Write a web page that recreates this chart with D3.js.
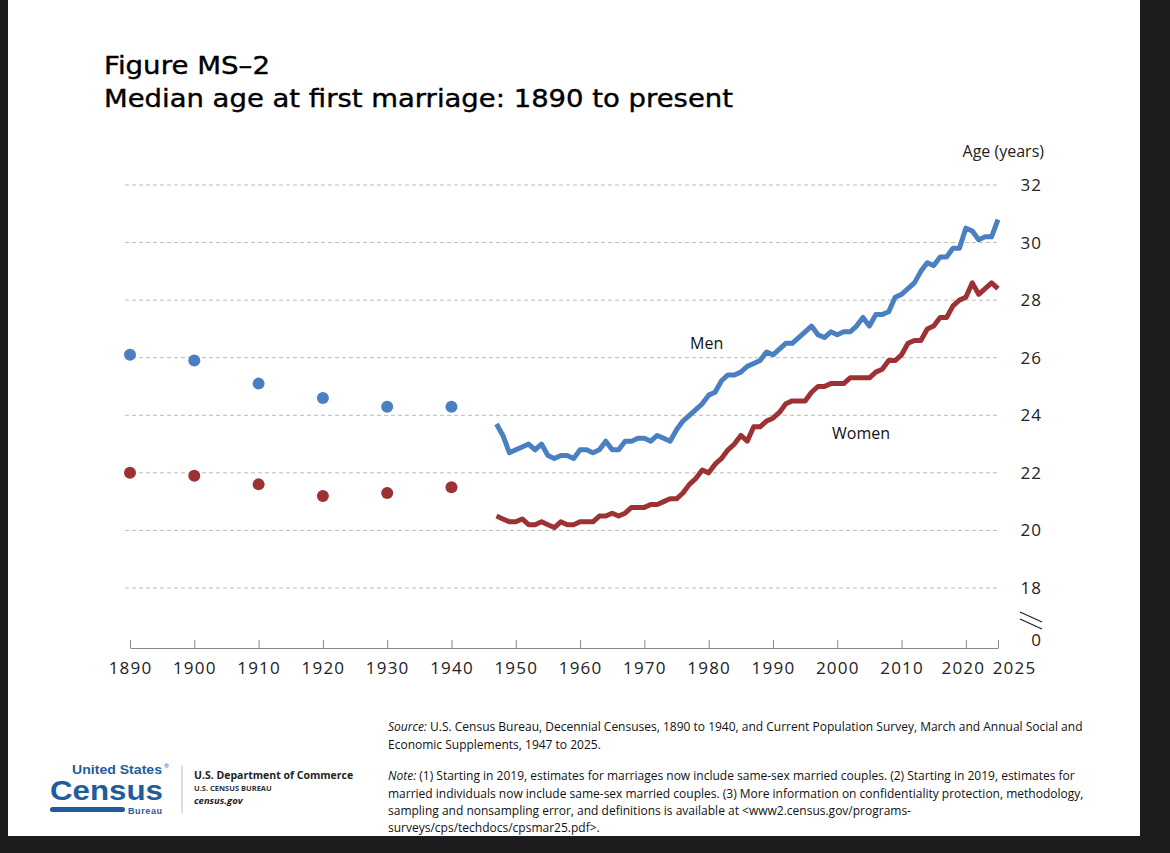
<!DOCTYPE html>
<html><head><meta charset="utf-8">
<script src="https://cdn.jsdelivr.net/npm/d3@7"></script>
<style>
body{margin:0;background:#1c1c1e;}
svg{display:block;}
</style></head><body>
<svg id="chart" width="1170" height="853"></svg>
<script>
const dotYears = [1890,1900,1910,1920,1930,1940];
const menDots = [26.1,25.9,25.1,24.6,24.3,24.3];
const womenDots = [22.0,21.9,21.6,21.2,21.3,21.5];
const lineYears = d3.range(1947,2026);
const menLine = [23.7,23.3,22.7,22.8,22.9,23.0,22.8,23.0,22.6,22.5,22.6,22.6,22.5,22.8,22.8,22.7,22.8,23.1,22.8,22.8,23.1,23.1,23.2,23.2,23.1,23.3,23.2,23.1,23.5,23.8,24.0,24.2,24.4,24.7,24.8,25.2,25.4,25.4,25.5,25.7,25.8,25.9,26.2,26.1,26.3,26.5,26.5,26.7,26.9,27.1,26.8,26.7,26.9,26.8,26.9,26.9,27.1,27.4,27.1,27.5,27.5,27.6,28.1,28.2,28.4,28.6,29.0,29.3,29.2,29.5,29.5,29.8,29.8,30.5,30.4,30.1,30.2,30.2,30.8];
const womenLine = [20.5,20.4,20.3,20.3,20.4,20.2,20.2,20.3,20.2,20.1,20.3,20.2,20.2,20.3,20.3,20.3,20.5,20.5,20.6,20.5,20.6,20.8,20.8,20.8,20.9,20.9,21.0,21.1,21.1,21.3,21.6,21.8,22.1,22.0,22.3,22.5,22.8,23.0,23.3,23.1,23.6,23.6,23.8,23.9,24.1,24.4,24.5,24.5,24.5,24.8,25.0,25.0,25.1,25.1,25.1,25.3,25.3,25.3,25.3,25.5,25.6,25.9,25.9,26.1,26.5,26.6,26.6,27.0,27.1,27.4,27.4,27.8,28.0,28.1,28.6,28.2,28.4,28.6,28.4];
const xTicks = [1890,1900,1910,1920,1930,1940,1950,1960,1970,1980,1990,2000,2010,2020,2025];
const yTicks = [18,20,22,24,26,28,30,32];

const blue = "#4a7fc1", red = "#9d3235";
const svg = d3.select("#chart");
const font = "'Open Sans', 'DejaVu Sans', sans-serif";
const tfont = "'DejaVu Sans', sans-serif";
svg.append("rect").attr("x",8).attr("y",0).attr("width",1132).attr("height",836).attr("fill","#fff");

svg.append("text").attr("x",104).attr("y",74).attr("font-family",tfont).attr("font-size",25).attr("textLength",166).attr("lengthAdjust","spacingAndGlyphs").attr("fill","#000").attr("stroke","#000").attr("stroke-width",0.4).text("Figure MS–2");
svg.append("text").attr("x",104).attr("y",107).attr("font-family",tfont).attr("font-size",25).attr("textLength",629).attr("lengthAdjust","spacingAndGlyphs").attr("fill","#000").attr("stroke","#000").attr("stroke-width",0.4).text("Median age at first marriage: 1890 to present");

const x = d3.scaleLinear().domain([1890,2025]).range([130,998]);
const y = d3.scaleLinear().domain([18,32]).range([588,185]);

// grid
svg.append("g").selectAll("line").data(yTicks).join("line")
  .attr("x1",125).attr("x2",1000).attr("y1",d=>y(d)).attr("y2",d=>y(d))
  .attr("stroke","#bbb").attr("stroke-dasharray","4,3").attr("stroke-width",1);
svg.append("g").selectAll("text").data(yTicks).join("text")
  .attr("x",1042).attr("y",d=>y(d)+6).attr("text-anchor","end").attr("letter-spacing",1)
  .attr("font-family",font).attr("font-size",17).attr("fill","#222").text(d=>d);
svg.append("text").attr("x",1041).attr("y",640+6).attr("text-anchor","end")
  .attr("font-family",font).attr("font-size",17).attr("fill","#222").text("0");
svg.append("text").attr("x",1044).attr("y",157).attr("text-anchor","end")
  .attr("font-family",font).attr("font-size",16).attr("fill","#222").text("Age (years)");
// axis break
[0,7].forEach(o=>svg.append("line").attr("x1",1020).attr("y1",612+o).attr("x2",1042).attr("y2",622+o).attr("stroke","#222").attr("stroke-width",1.3));

// x axis
const xAxis = svg.append("g").attr("transform","translate(0,648)")
  .call(d3.axisBottom(x).tickValues(xTicks).tickFormat(d3.format("d")).tickSizeInner(-8).tickSizeOuter(0).tickPadding(14));
xAxis.select(".domain").attr("stroke","#888");
xAxis.selectAll(".tick line").attr("stroke","#888");
xAxis.selectAll("text").attr("font-family",font).attr("font-size",17).attr("letter-spacing",1.2).attr("fill","#222")
  .attr("dx",d=>d===2025?16:(d===2020?-3:0));

// dots
svg.append("g").selectAll("circle").data(dotYears).join("circle")
  .attr("cx",d=>x(d)).attr("cy",(d,i)=>y(menDots[i])).attr("r",6).attr("fill",blue);
svg.append("g").selectAll("circle").data(dotYears).join("circle")
  .attr("cx",d=>x(d)).attr("cy",(d,i)=>y(womenDots[i])).attr("r",6).attr("fill",red);

// lines
const line = d3.line().x(d=>x(d[0])).y(d=>y(d[1]));
svg.append("path").datum(lineYears.map((yr,i)=>[yr,menLine[i]])).attr("d",line)
  .attr("fill","none").attr("stroke",blue).attr("stroke-width",5).attr("stroke-linejoin","round");
svg.append("path").datum(lineYears.map((yr,i)=>[yr,womenLine[i]])).attr("d",line)
  .attr("fill","none").attr("stroke",red).attr("stroke-width",5).attr("stroke-linejoin","round");

svg.append("text").attr("x",690).attr("y",349).attr("font-family",font).attr("font-size",16).attr("fill","#111").text("Men");
svg.append("text").attr("x",832).attr("y",439).attr("font-family",font).attr("font-size",16).attr("fill","#111").text("Women");

// footer notes
const nf = "'Open Sans', sans-serif";
const notes = svg.append("g").attr("font-family",nf).attr("font-size",12).attr("fill","#111");
function noteLine(yy, label, txt){
  const t = notes.append("text").attr("x",388).attr("y",yy);
  if(label) t.append("tspan").attr("font-style","italic").text(label);
  t.append("tspan").text(txt);
}
noteLine(731,"Source:"," U.S. Census Bureau, Decennial Censuses, 1890 to 1940, and Current Population Survey, March and Annual Social and");
noteLine(749,"","Economic Supplements, 1947 to 2025.");
noteLine(780,"Note:"," (1) Starting in 2019, estimates for marriages now include same-sex married couples. (2) Starting in 2019, estimates for");
noteLine(798,"","married individuals now include same-sex married couples. (3) More information on confidentiality protection, methodology,");
noteLine(815,"","sampling and nonsampling error, and definitions is available at <www2.census.gov/programs-");
noteLine(832,"","surveys/cps/techdocs/cpsmar25.pdf>.");

// logo
const cb = "#1f5c9e";
svg.append("text").attr("x",72).attr("y",774).attr("font-family","'Liberation Sans Narrow', sans-serif").attr("font-weight","bold").attr("font-size",13).attr("textLength",90).attr("lengthAdjust","spacingAndGlyphs").attr("fill",cb).text("United States");
svg.append("text").attr("x",164).attr("y",768).attr("font-family",nf).attr("font-size",6).attr("fill",cb).text("®");
svg.append("text").attr("x",50).attr("y",800).attr("font-family","'Liberation Sans Narrow', 'Liberation Sans', sans-serif").attr("font-weight","bold").attr("font-size",28).attr("textLength",113).attr("lengthAdjust","spacingAndGlyphs").attr("fill",cb).text("Census");
svg.append("rect").attr("x",50).attr("y",807).attr("width",75).attr("height",5).attr("rx",2.5).attr("fill",cb);
svg.append("text").attr("x",128).attr("y",814).attr("font-family","'Liberation Sans Narrow', sans-serif").attr("font-weight","bold").attr("font-size",9).attr("textLength",34).attr("fill",cb).text("Bureau");
svg.append("line").attr("x1",182).attr("x2",182).attr("y1",765).attr("y2",813).attr("stroke","#bbb");
svg.append("text").attr("x",194).attr("y",779).attr("font-family",nf).attr("font-weight","bold").attr("font-size",10.5).attr("fill","#222").text("U.S. Department of Commerce");
svg.append("text").attr("x",194).attr("y",791).attr("font-family",nf).attr("font-size",7.5).attr("font-weight","bold").attr("fill","#333").text("U.S. CENSUS BUREAU");
svg.append("text").attr("x",194).attr("y",804).attr("font-family",nf).attr("font-weight","bold").attr("font-style","italic").attr("font-size",9.5).attr("fill","#222").text("census.gov");
</script>
</body></html>
